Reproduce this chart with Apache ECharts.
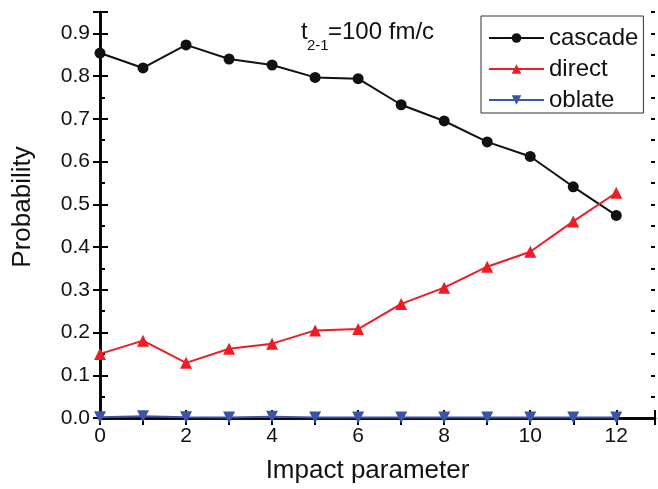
<!DOCTYPE html>
<html>
<head>
<meta charset="utf-8">
<script src="https://cdn.jsdelivr.net/npm/echarts@6/dist/echarts.min.js"></script>
<style>html,body{margin:0;padding:0;background:#fff}#c{width:658px;height:489px}</style>
</head>
<body>
<div id="c"></div>
<script>
const impact = [0, 1, 2, 3, 4, 5, 6, 7, 8, 9, 10, 11, 12];
const cascade = [0.854, 0.819, 0.873, 0.840, 0.826, 0.797, 0.794, 0.733, 0.695, 0.646, 0.612, 0.541, 0.474];
const direct = [0.150, 0.181, 0.129, 0.162, 0.174, 0.205, 0.208, 0.267, 0.305, 0.354, 0.389, 0.460, 0.527];
const oblate = [0.002, 0.004, 0.002, 0.001, 0.003, 0.001, 0.001, 0.001, 0.001, 0.001, 0.001, 0.001, 0.001];
const seriesNames = ['cascade', 'direct', 'oblate'];
const xTitle = 'Impact parameter';
const yTitle = 'Probability';

const FONT = 'Liberation Sans, Arial, sans-serif';
const chart = echarts.init(document.getElementById('c'));
const pairs = arr => impact.map((x, i) => [x, arr[i]]);
const lineAx = {show: true, lineStyle: {color: '#000', width: 2.5}};

const yLabelFmt = v => {
  const r = Math.round(v * 10);
  return Math.abs(v * 10 - r) < 1e-6 ? (r / 10).toFixed(1) : '';
};

chart.setOption({
  animation: false,
  grid: {left: 100, right: 1, top: 12, bottom: 68, containLabel: false},
  xAxis: [
    {type: 'value', position: 'bottom', min: 0, max: 12.9, interval: 2,
     axisLine: lineAx, splitLine: {show: false},
     axisTick: {show: true, inside: true, length: 8, lineStyle: {color: '#000', width: 2}},
     axisLabel: {margin: 8, fontSize: 21, color: '#111', fontFamily: FONT,
       formatter: v => (Math.abs(v - Math.round(v)) < 1e-6 && Math.round(v) % 2 === 0) ? String(Math.round(v)) : ''},
     name: xTitle, nameLocation: 'middle', nameGap: 40,
     nameTextStyle: {fontSize: 26, color: '#111', fontFamily: FONT, padding: [0, 20, 0, 0]}},
    {type: 'value', position: 'bottom', min: 0, max: 12.9, interval: 1,
     axisLine: {show: false}, splitLine: {show: false},
     axisTick: {show: true, inside: true, length: 5, lineStyle: {color: '#000', width: 2}},
     axisLabel: {show: false}},
    {type: 'value', position: 'top', min: 0, max: 12.9, interval: 1,
     axisLine: lineAx, splitLine: {show: false},
     axisTick: {show: true, inside: true, length: 7, lineStyle: {color: '#000', width: 2}},
     axisLabel: {show: false}}
  ],
  yAxis: [
    {type: 'value', position: 'left', min: 0, max: 0.95, interval: 0.1,
     axisLine: lineAx, splitLine: {show: false},
     axisTick: {show: true, inside: true, length: 8, lineStyle: {color: '#000', width: 2}},
     axisLabel: {margin: 10, fontSize: 21, color: '#111', fontFamily: FONT, formatter: yLabelFmt},
     name: yTitle, nameLocation: 'middle', nameGap: 64,
     nameTextStyle: {fontSize: 26, color: '#111', fontFamily: FONT, padding: [0, 0, 0, 16]}},
    {type: 'value', position: 'left', min: 0, max: 0.95, interval: 0.05,
     axisLine: {show: false}, splitLine: {show: false},
     axisTick: {show: true, inside: true, length: 5, lineStyle: {color: '#000', width: 2}},
     axisLabel: {show: false}},
    {type: 'value', position: 'right', min: 0, max: 0.95, interval: 0.1,
     axisLine: lineAx, splitLine: {show: false},
     axisTick: {show: true, inside: true, length: 7, lineStyle: {color: '#000', width: 2}},
     axisLabel: {show: false}},
    {type: 'value', position: 'right', min: 0, max: 0.95, interval: 0.05,
     axisLine: {show: false}, splitLine: {show: false},
     axisTick: {show: true, inside: true, length: 4, lineStyle: {color: '#000', width: 2}},
     axisLabel: {show: false}}
  ],
  legend: {
    orient: 'vertical', left: 481, top: 16,
    padding: [10, 5, 1, 7], itemGap: 7, itemWidth: 55, itemHeight: 12,
    borderColor: '#333', borderWidth: 1, borderRadius: 0, backgroundColor: '#fff',
    textStyle: {fontSize: 24, lineHeight: 22, color: '#111', fontFamily: FONT},
    data: seriesNames
  },
  graphic: [
    {type: 'text', left: 301, top: 20, style: {text: 't', fontSize: 24, fill: '#111', fontFamily: FONT}},
    {type: 'text', left: 307, top: 38, style: {text: '2-1', fontSize: 15, fill: '#111', fontFamily: FONT}},
    {type: 'text', left: 328, top: 20, style: {text: '=100 fm/c', fontSize: 24, fill: '#111', fontFamily: FONT}}
  ],
  series: [
    {name: seriesNames[0], type: 'line', data: pairs(cascade), symbol: 'circle', symbolSize: 11,
     lineStyle: {color: '#111', width: 2}, itemStyle: {color: '#111'}, z: 3},
    {name: seriesNames[1], type: 'line', data: pairs(direct), symbol: 'triangle', symbolSize: 12,
     lineStyle: {color: '#ee1c25', width: 2}, itemStyle: {color: '#ee1c25'}, z: 4},
    {name: seriesNames[2], type: 'line', data: pairs(oblate), symbol: 'triangle', symbolRotate: 180, symbolSize: 12,
     lineStyle: {color: '#3a55a5', width: 2}, itemStyle: {color: '#3a55a5'}, z: 5}
  ]
});
</script>
</body>
</html>
